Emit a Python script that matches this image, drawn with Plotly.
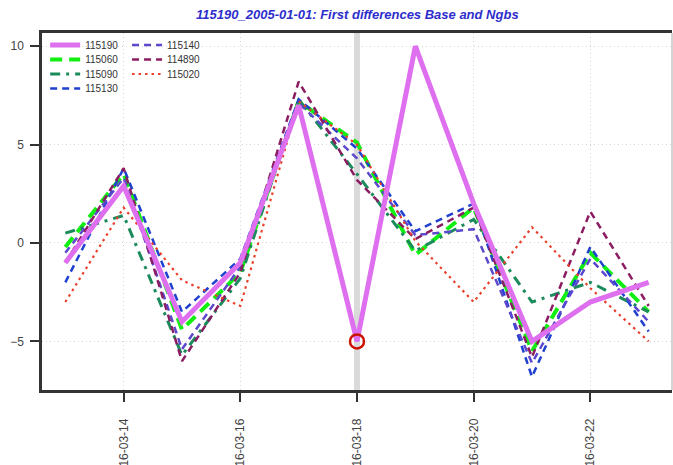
import plotly.graph_objects as go

dates = ["2016-03-13", "2016-03-14", "2016-03-15", "2016-03-16", "2016-03-17", "2016-03-18",
         "2016-03-19", "2016-03-20", "2016-03-21", "2016-03-22", "2016-03-23"]

s115190 = [-1.0, 2.9, -4.0, -1.0, 7.0, -5.0, 10.0, 2.0, -5.0, -3.0, -2.0]
s115060 = [-0.2, 3.5, -4.4, -1.5, 7.2, 5.1, -0.6, 1.8, -5.5, -0.5, -3.5]
s115090 = [0.5, 1.4, -5.7, -1.8, 7.3, 3.5, -0.4, 1.2, -3.0, -2.0, -3.5]
s115130 = [-2.0, 3.8, -3.5, -0.8, 7.3, 4.8, 0.6, 2.0, -6.8, -0.2, -4.5]
s115140 = [-0.5, 3.3, -5.4, -1.2, 7.1, 4.3, 0.4, 0.7, -6.1, -0.8, -4.0]
s114890 = [-1.0, 3.8, -6.0, -1.5, 8.2, 3.2, 0.2, 1.8, -5.8, 1.6, -3.2]
s115020 = [-3.0, 1.8, -1.9, -3.2, 7.2, 5.0, 0.1, -3.0, 0.8, -2.3, -5.0]

highlight_date = "2016-03-18"
tick_dates = ["2016-03-14", "2016-03-16", "2016-03-18", "2016-03-20", "2016-03-22"]
y_ticks = [-5, 0, 5, 10]
title = "115190_2005-01-01: First differences Base and Ngbs"

# name, values, colour, width, dash, legend column, legend row
series = [
    ("115190", s115190, "#DE6FEF", 5, "solid", 0, 0),
    ("115060", s115060, "#11EE11", 4, "12px,7px", 0, 1),
    ("115090", s115090, "#1B8B5B", 3, "10px,6px,3px,6px", 0, 2),
    ("115130", s115130, "#2040D0", 2.5, "7px,5px", 0, 3),
    ("115140", s115140, "#5B48CD", 2.5, "7px,5px", 1, 0),
    ("114890", s114890, "#8B1C62", 2.5, "7px,5px", 1, 1),
    ("115020", s115020, "#E8402A", 2.2, "2.5px,4px", 1, 2),
]

plot_top_px, plot_h_px, plot_w_px = 33, 357, 630
row_px = [45, 59.5, 74, 88.5]
col_x = [0.005, 0.135]

fig = go.Figure()
fig.add_vline(x=highlight_date, line=dict(color="#DADADA", width=6), layer="below")

legends = {}
order = series[1:] + series[:1]  # draw main series last so it sits on top
for i, (name, vals, col, w, dash, c, r) in enumerate(series):
    key = "legend" if i == 0 else "legend%d" % (i + 1)
    legends[name] = key
    legends_cfg = dict(x=col_x[c], y=1 - (row_px[r] - plot_top_px) / plot_h_px,
                       xanchor="left", yanchor="middle", bgcolor="rgba(0,0,0,0)",
                       font=dict(size=10, color="#333333"), itemwidth=30)
    fig.update_layout({key: legends_cfg})

for name, vals, col, w, dash, c, r in order:
    fig.add_trace(go.Scatter(x=dates, y=vals, mode="lines", name=name,
                             line=dict(color=col, width=w, dash=dash),
                             legend=legends[name]))

hi_idx = dates.index(highlight_date)
fig.add_trace(go.Scatter(x=[highlight_date], y=[s115190[hi_idx]], mode="markers",
                         marker=dict(symbol="circle-open", size=14, color="#CC1100",
                                     line=dict(width=2.5, color="#CC1100")),
                         showlegend=False))

axis_common = dict(showline=True, linecolor="#333333", linewidth=2.5,
                   ticks="outside", ticklen=9, tickwidth=2, tickcolor="#333333",
                   showgrid=True, gridcolor="#D6D6D6", griddash="1px,3px", gridwidth=1,
                   zeroline=False, tickfont=dict(family="Liberation Sans", size=12, color="#444444"))

fig.add_shape(type="line", xref="paper", yref="paper", x0=1, x1=1, y0=0, y1=1,
              line=dict(color="#AAAAAA", width=1))

fig.update_layout(
    width=673, height=465,
    margin=dict(l=42, r=1, t=33, b=75),
    paper_bgcolor="white", plot_bgcolor="white",
    font=dict(family="Liberation Sans"),
    title=dict(text="<b><i>" + title + "</i></b>", x=0.531, xanchor="center", y=0.979, yanchor="top",
               font=dict(family="Liberation Sans", size=13, color="#2E2ECC")),
    xaxis=dict(type="date", range=["2016-03-12 14:24", "2016-03-23 09:36"],
               tickvals=tick_dates, tickformat="%Y-%m-%d", tickangle=-90,
               automargin=False, mirror=True, ticklabelstandoff=12, **axis_common),
    yaxis=dict(range=[-7.47, 10.67], tickvals=y_ticks, automargin=False, mirror=False,
               ticklabelstandoff=4, **axis_common),
)

fig.write_html("out.html")
